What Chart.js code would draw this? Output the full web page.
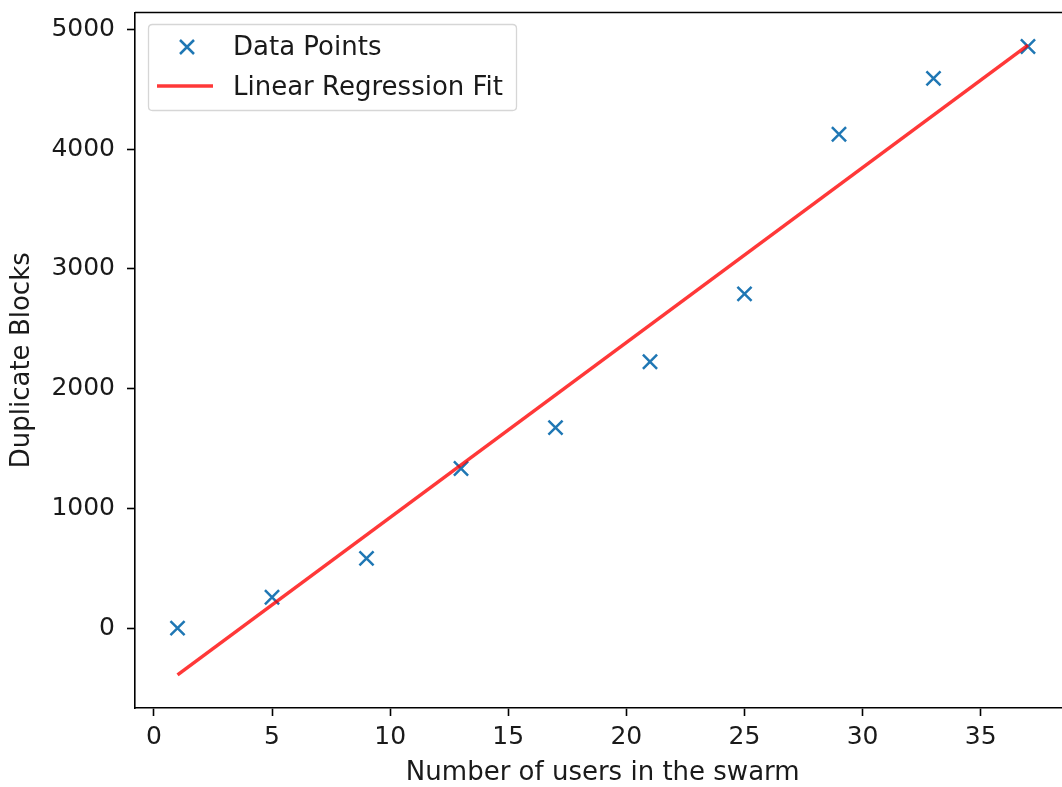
<!DOCTYPE html>
<html>
<head>
<meta charset="utf-8">
<script src="https://cdn.jsdelivr.net/npm/chart.js@4"></script>
<style>
  html, body { margin: 0; padding: 0; background: #fff; overflow: hidden; }
  #clip { width: 1062px; height: 787px; overflow: hidden; position: relative; }
  #wrap { width: 1083px; height: 787px; position: absolute; left: 0; top: 0; }
  canvas { display: block; width: 1083px; height: 787px; }
</style>
</head>
<body>
<div id="clip"><div id="wrap"><canvas id="c" width="1083" height="787"></canvas></div></div>
<script>
// ---- data ----
const userCounts = [1, 5, 9, 13, 17, 21, 25, 29, 33, 37];
const duplicateBlocks = [0, 258, 583, 1333, 1675, 2225, 2792, 4125, 4592, 4858];
const fitX = [1, 37];
const fitY = [-390, 4870];
const xTicks = [0, 5, 10, 15, 20, 25, 30, 35];
const yTicks = [0, 1000, 2000, 3000, 4000, 5000];
const seriesLabels = ['Data Points', 'Linear Regression Fit'];
const axisTitles = { x: 'Number of users in the swarm', y: 'Duplicate Blocks' };

const FONT = '"DejaVu Sans", sans-serif';
const FS = 25;
const FS_TITLE = 26;
const TEXT = '#1a1a1a';
const BLUE = '#1f77b4';
const RED = 'rgba(255,0,0,0.78)';

const pointsData = userCounts.map((x, i) => ({ x, y: duplicateBlocks[i] }));
const fitData = fitX.map((x, i) => ({ x, y: fitY[i] }));

const frame = {
  id: 'frame',
  afterDraw(chart) {
    const { ctx, chartArea: a } = chart;
    ctx.save();
    ctx.strokeStyle = '#000';
    ctx.lineWidth = 1.6;
    ctx.beginPath();
    ctx.moveTo(a.left, a.top);
    ctx.lineTo(a.right, a.top);
    ctx.stroke();

    // legend inside the plot (upper left)
    const bx = 148.5, by = 24.5, bw = 368, bh = 86, r = 4;
    ctx.beginPath();
    ctx.moveTo(bx + r, by);
    ctx.lineTo(bx + bw - r, by);
    ctx.quadraticCurveTo(bx + bw, by, bx + bw, by + r);
    ctx.lineTo(bx + bw, by + bh - r);
    ctx.quadraticCurveTo(bx + bw, by + bh, bx + bw - r, by + bh);
    ctx.lineTo(bx + r, by + bh);
    ctx.quadraticCurveTo(bx, by + bh, bx, by + bh - r);
    ctx.lineTo(bx, by + r);
    ctx.quadraticCurveTo(bx, by, bx + r, by);
    ctx.closePath();
    ctx.fillStyle = 'rgba(255,255,255,0.8)';
    ctx.fill();
    ctx.strokeStyle = '#d6d6d6';
    ctx.lineWidth = 1.3;
    ctx.stroke();

    // marker
    const mx = 187, my = 47, s = 7;
    ctx.strokeStyle = BLUE;
    ctx.lineWidth = 2.5;
    ctx.beginPath();
    ctx.moveTo(mx - s, my - s); ctx.lineTo(mx + s, my + s);
    ctx.moveTo(mx - s, my + s); ctx.lineTo(mx + s, my - s);
    ctx.stroke();
    // line sample
    ctx.strokeStyle = RED;
    ctx.lineWidth = 3.5;
    ctx.beginPath();
    ctx.moveTo(157, 86); ctx.lineTo(213, 86);
    ctx.stroke();

    ctx.fillStyle = TEXT;
    ctx.font = FS_TITLE + 'px ' + FONT;
    ctx.textAlign = 'left';
    ctx.textBaseline = 'alphabetic';
    ctx.fillText(seriesLabels[0], 233, 55);
    ctx.fillText(seriesLabels[1], 233, 95);
    ctx.restore();
  }
};

new Chart(document.getElementById('c'), {
  type: 'scatter',
  data: {
    datasets: [
      {
        label: seriesLabels[0],
        data: pointsData,
        pointStyle: 'crossRot',
        pointRadius: 10,
        pointHoverRadius: 10,
        borderColor: BLUE,
        backgroundColor: BLUE,
        pointBorderWidth: 2.5,
        borderWidth: 2.5,
        showLine: false,
        order: 1
      },
      {
        label: seriesLabels[1],
        data: fitData,
        showLine: true,
        pointRadius: 0,
        borderColor: RED,
        borderWidth: 3.5,
        fill: false,
        order: 0
      }
    ]
  },
  options: {
    responsive: false,
    maintainAspectRatio: false,
    animation: false,
    devicePixelRatio: 1,
    layout: { padding: { top: 11, right: 0, bottom: 0, left: 0 } },
    plugins: { legend: { display: false }, tooltip: { enabled: false } },
    scales: {
      x: {
        type: 'linear',
        min: -0.8,
        max: 38.8,
        afterFit(scale) {
          scale.height = 79;
          scale.paddingLeft = 0; scale.paddingRight = 0;
          scale.paddingTop = 0; scale.paddingBottom = 0;
        },
        afterBuildTicks(scale) { scale.ticks = xTicks.map(v => ({ value: v })); },
        ticks: {
          font: { family: FONT, size: FS },
          color: TEXT,
          padding: 6,
          maxRotation: 0,
          includeBounds: false,
          callback: (v) => String(v)
        },
        grid: {
          drawOnChartArea: false,
          drawTicks: true,
          tickLength: 8,
          tickWidth: 1.6,
          tickColor: '#000'
        },
        border: { display: true, color: '#000', width: 1.6 },
        title: {
          display: true,
          text: axisTitles.x,
          font: { family: FONT, size: FS_TITLE },
          color: TEXT,
          padding: { top: 0, bottom: -2 }
        }
      },
      y: {
        type: 'linear',
        min: -667,
        max: 5142,
        afterFit(scale) {
          scale.width = 135;
          scale.paddingLeft = 0; scale.paddingRight = 0;
          scale.paddingTop = 0; scale.paddingBottom = 0;
        },
        afterBuildTicks(scale) { scale.ticks = yTicks.map(v => ({ value: v })); },
        ticks: {
          font: { family: FONT, size: FS },
          color: TEXT,
          padding: 12,
          includeBounds: false,
          callback: (v) => String(v)
        },
        grid: {
          drawOnChartArea: false,
          drawTicks: true,
          tickLength: 8,
          tickWidth: 1.6,
          tickColor: '#000'
        },
        border: { display: true, color: '#000', width: 1.6 },
        title: {
          display: true,
          text: axisTitles.y,
          font: { family: FONT, size: FS_TITLE },
          color: TEXT,
          padding: { top: 7, bottom: 0 }
        }
      }
    }
  },
  plugins: [frame]
});
</script>
</body>
</html>
